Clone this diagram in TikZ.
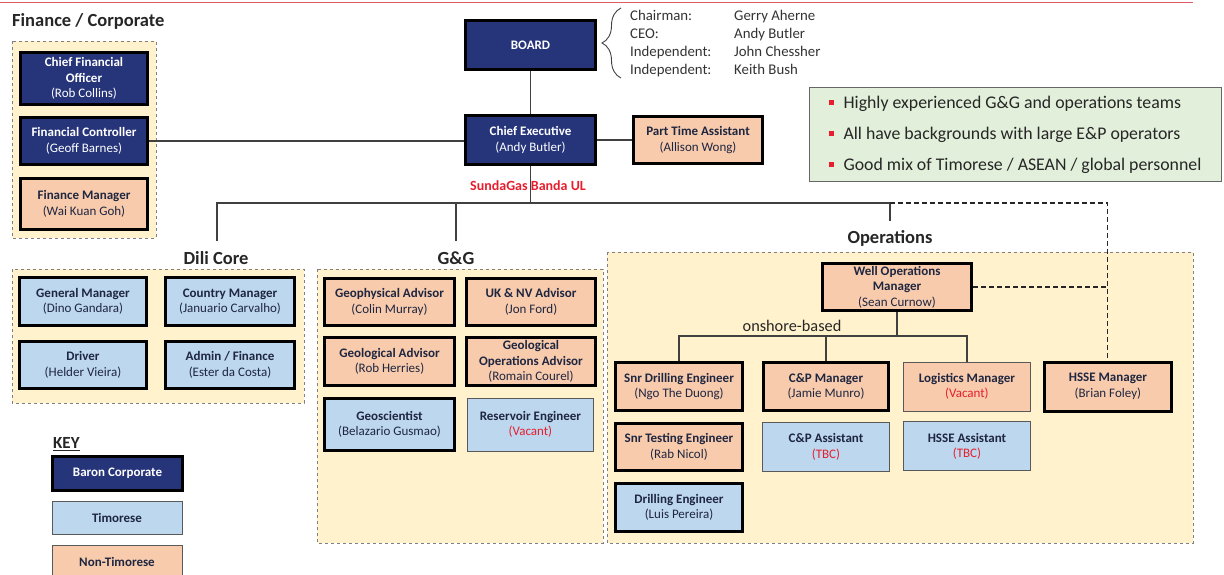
\documentclass[tikz,border=0pt]{standalone}
\usepackage{fontspec}
\setmainfont{Carlito}
\usepackage{tikz}
\usetikzlibrary{positioning,decorations.pathreplacing}
\definecolor{marinho}{RGB}{38,52,122}
\definecolor{pessego}{RGB}{248,203,173}
\definecolor{ceu}{RGB}{189,215,238}
\definecolor{creme}{RGB}{255,242,204}
\definecolor{menta}{RGB}{226,239,218}
\definecolor{tinta}{RGB}{30,38,64}
\definecolor{alerta}{RGB}{230,30,45}
\definecolor{faixa}{RGB}{222,92,104}

\begin{document}
\begin{tikzpicture}[x=1pt,y=-1pt,
    cargo/.style={align=center,inner sep=0pt,text=tinta,minimum width=127pt,minimum height=48pt,
                  font=\fontsize{13}{15.5}\selectfont},
    grosso/.style={cargo,draw=black,line width=3pt},
    fino/.style={cargo,draw=black!65,line width=0.9pt},
    corp/.style={grosso,fill=marinho,text=white},
    timor/.style={fill=ceu},
    expat/.style={fill=pessego},
    grupo/.style={draw=black!50,dashed,fill=creme,line width=0.6pt},
    titulo/.style={font=\fontsize{18.5}{22}\selectfont\bfseries,text=black!85},
    liga/.style={draw=black!75,line width=1.1pt},
    ponto/.style={liga,draw=black!85,dash pattern=on 5pt off 3pt}]
  \useasboundingbox (0,0) rectangle (1224,575);
  \draw[faixa,line width=1.6pt] (0,2.5) -- (1193,2.5);

  % grupos
  \draw[grupo] (12,41) rectangle (156,238);
  \draw[grupo] (12,269) rectangle (304,403);
  \draw[grupo] (317,269) rectangle (603,543);
  \draw[grupo] (607,252) rectangle (1193,543);
  \node[titulo,anchor=west,inner xsep=0pt] (tfin) at (12,21) {Finance / Corporate};
  \node[titulo] (tdili) at (216,258) {Dili Core};
  \node[titulo] (tgg) at (456,258) {G\&G};
  \node[titulo] (tops) at (890,238) {Operations};

  % topo
  \node[corp,minimum width=130pt,minimum height=49pt] (board) at (530.5,45) {\textbf{BOARD}};
  \node[corp,minimum width=130pt,minimum height=49pt,below=43pt of board] (ce) {\textbf{Chief Executive}\\(Andy Butler)};
  \node[grosso,expat,minimum width=129pt,minimum height=47pt,right=35pt of ce] (pta) {\textbf{Part Time Assistant}\\(Allison Wong)};
  \draw[decorate,decoration={brace,amplitude=19pt},draw=black!75,line width=0.9pt] (621,78) -- (621,8);
  \node[anchor=north west,inner sep=0pt,text=black!80] (membros) at (630,8)
    {\fontsize{14.8}{18}\selectfont\begin{tabular}{@{}p{104pt}@{}l@{}}
      Chairman: & Gerry Aherne\\ CEO: & Andy Butler\\
      Independent: & John Chessher\\ Independent: & Keith Bush\end{tabular}};
  \node[draw=black!60,fill=menta,line width=1pt,minimum height=94pt,minimum width=412pt,
        align=left,text=black!85,font=\fontsize{17.8}{31}\selectfont] (destaque) at (1015,135)
    {\textcolor{alerta}{\rule[0.22em]{5pt}{5pt}}\hspace{10pt}Highly experienced G\&G and operations teams\\
     \textcolor{alerta}{\rule[0.22em]{5pt}{5pt}}\hspace{10pt}All have backgrounds with large E\&P operators\\
     \textcolor{alerta}{\rule[0.22em]{5pt}{5pt}}\hspace{10pt}Good mix of Timorese / ASEAN / global personnel};

  % finance / corporate
  \node[corp,minimum height=52pt] (cfo) at (84,78.5) {\textbf{Chief Financial}\\\textbf{Officer}\\(Rob Collins)};
  \node[corp,minimum height=47pt,below=10pt of cfo] (fc) {\textbf{Financial Controller}\\(Geoff Barnes)};
  \node[grosso,expat,minimum height=51pt,below=11pt of fc] (fm) {\textbf{Finance Manager}\\(Wai Kuan Goh)};

  % dili core
  \node[grosso,timor] (gm) at (83,301.5) {\textbf{General Manager}\\(Dino Gandara)};
  \node[grosso,timor,minimum width=129pt,right=16pt of gm] (cm) {\textbf{Country Manager}\\(Januario Carvalho)};
  \node[grosso,timor,minimum height=47pt,below=13pt of gm] (drv) {\textbf{Driver}\\(Helder Vieira)};
  \node[grosso,timor,minimum width=129pt,minimum height=47pt,below=13pt of cm] (adm) {\textbf{Admin / Finance}\\(Ester da Costa)};

  % g&g
  \node[grosso,expat,minimum width=130pt,minimum height=47pt] (geof) at (389.5,302) {\textbf{Geophysical Advisor}\\(Colin Murray)};
  \node[grosso,expat,minimum width=129pt,minimum height=47pt,right=9pt of geof] (uknv) {\textbf{UK \& NV Advisor}\\(Jon Ford)};
  \node[grosso,expat,minimum width=130pt,below=9pt of geof] (geol) {\textbf{Geological Advisor}\\(Rob Herries)};
  \node[grosso,expat,minimum width=129pt,right=9pt of geol] (geolop) {\textbf{Geological}\\\textbf{Operations Advisor}\\(Romain Courel)};
  \node[grosso,timor,minimum width=130pt,minimum height=52pt,below=10pt of geol] (geoc) {\textbf{Geoscientist}\\(Belazario Gusmao)};
  \node[fino,timor,minimum width=126pt,minimum height=53pt,right=11pt of geoc] (reser) {\textbf{Reservoir Engineer}\\\textcolor{alerta}{(Vacant)}};

  % operations
  \node[grosso,expat,minimum width=149pt,minimum height=47pt] (wom) at (897,287) {\textbf{Well Operations}\\\textbf{Manager}\\(Sean Curnow)};
  \node[grosso,expat] (sde) at (679,386.5) {\textbf{Snr Drilling Engineer}\\(Ngo The Duong)};
  \node[grosso,expat,minimum width=125pt,right=18pt of sde] (cpm) {\textbf{C\&P Manager}\\(Jamie Munro)};
  \node[fino,expat,minimum height=49pt,right=13pt of cpm] (logm) {\textbf{Logistics Manager}\\\textcolor{alerta}{(Vacant)}};
  \node[grosso,expat,minimum height=49pt,right=12pt of logm] (hsse) {\textbf{HSSE Manager}\\(Brian Foley)};
  \node[grosso,expat,minimum height=47pt,below=10pt of sde] (ste) {\textbf{Snr Testing Engineer}\\(Rab Nicol)};
  \node[fino,timor,minimum height=49pt,below=10pt of cpm] (cpa) {\textbf{C\&P Assistant}\\\textcolor{alerta}{(TBC)}};
  \node[fino,timor,minimum height=49pt,below=10pt of logm] (hssea) {\textbf{HSSE Assistant}\\\textcolor{alerta}{(TBC)}};
  \node[grosso,timor,below=10pt of ste] (dre) {\textbf{Drilling Engineer}\\(Luis Pereira)};
  \node[font=\fontsize{16.3}{18}\selectfont,text=black!85] (onshore) at (792,326) {onshore-based};

  % ligacoes
  \coordinate (bus) at (530.5,203);
  \coordinate (be) at (890,203);
  \coordinate (dl) at (217,241);
  \coordinate (gl) at (456,241);
  \coordinate (ol) at (890,221);
  \coordinate (ob) at (897,336);
  \draw[liga] (board) -- (ce);
  \draw[liga] (fc.east) -- (fc.east -| ce.west);
  \draw[liga] (ce) -- (pta);
  \draw[liga] (ce.south) -- (bus);
  \draw[liga] (dl) |- (be) -- (ol);
  \draw[liga] (gl) -- (gl |- be);
  \draw[ponto] (be) -| (hsse.north);
  \draw[ponto] (wom.east) -- (wom.east -| hsse.north);
  \draw[liga] (wom.south) -- (ob);
  \draw[liga] (sde.north) |- (logm.north |- ob) -- (logm.north);
  \draw[liga] (cpm.north) -- (cpm.north |- ob);
  \node[font=\fontsize{14}{16}\selectfont\bfseries,text=alerta] (sbu) at (528,186) {SundaGas Banda UL};

  % legenda
  \node[font=\fontsize{17}{18}\selectfont\bfseries,text=black!85,anchor=west,inner sep=0pt] (key) at (53,444) {\underline{KEY}};
  \node[corp,minimum width=130pt,minimum height=34pt] (kcorp) at (117.5,473.5) {\textbf{Baron Corporate}};
  \node[fino,timor,minimum width=130pt,minimum height=33pt] (ktim) at (117,517.5) {\textbf{Timorese}};
  \node[fino,expat,minimum width=130pt,minimum height=33pt] (knon) at (117,561.5) {\textbf{Non-Timorese}};
\end{tikzpicture}
\end{document}
